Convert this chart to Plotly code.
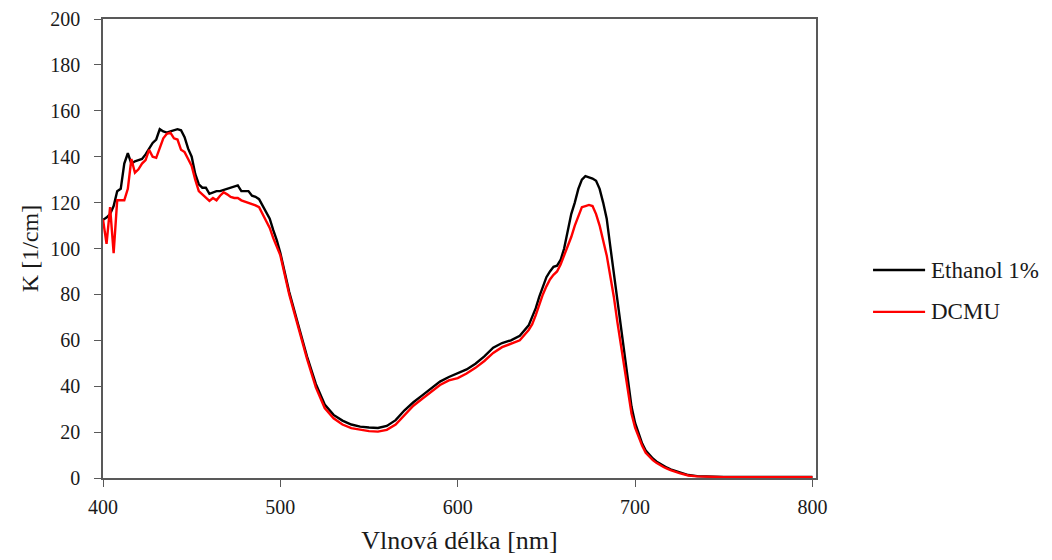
import plotly.graph_objects as go

# Wavelength grid [nm]
wavelength = (
    list(range(400, 501, 2))
    + list(range(505, 636, 5))
    + list(range(640, 721, 2))
    + list(range(725, 801, 5))
)

# Absorption coefficient K [1/cm], control (1 % ethanol)
k_ethanol = [
    # 400-500 nm
    112.5, 113.5, 115, 118.5, 125, 126, 137, 141.5, 137, 138,
    138.5, 139, 141, 143.5, 146, 147.5, 152, 151, 150.5, 151,
    151.5, 152, 151.5, 148.5, 143.5, 140, 132.5, 128, 126.5, 126.5,
    123.8, 124.5, 125, 125, 125.5, 126, 126.5, 127, 127.5, 125,
    125, 125, 123, 122.5, 121.5, 118.5, 116, 113, 108, 103.5,
    98,
    # 505-635 nm
    81, 67, 53, 41, 32, 27.5, 25, 23.3, 22.4, 22,
    21.8, 22.7, 25.2, 29.5, 33, 36, 39, 42, 44, 45.5,
    47.3, 49.8, 53, 56.8, 58.8, 60, 62,
    # 640-720 nm
    66.5, 70, 74, 79, 83.5, 87.5, 90, 92, 92.5, 95,
    100, 107, 115, 120, 126, 130, 131.5, 131, 130.5, 129.5,
    126, 120, 113, 101, 89, 78, 66, 54, 42, 31,
    24, 19, 15, 12, 10, 8.5, 7.2, 6.2, 5.3, 4.5,
    3.8,
    # 725-800 nm
    2.4, 1.3, 0.8, 0.6, 0.5, 0.45, 0.45, 0.45, 0.45, 0.45,
    0.45, 0.45, 0.45, 0.45, 0.45, 0.45,
]

# Absorption coefficient K [1/cm], DCMU treatment
k_dcmu = [
    # 400-500 nm
    112.7, 102, 118, 98, 121, 121, 121, 126, 139, 133,
    134.5, 137, 138.5, 143, 140, 139.5, 143.5, 148, 150, 150.5,
    148, 147.5, 143, 142, 139, 136, 130, 125, 123.6, 122,
    120.7, 122, 121, 123, 124.5, 123.6, 122.5, 122, 122, 121,
    120.5, 120, 119.5, 118.8, 118, 115, 112.7, 109, 104.5, 100.5,
    97,
    # 505-635 nm
    80, 66, 52, 39.5, 30.5, 26, 23.3, 21.7, 20.9, 20.4,
    20.2, 21, 23.3, 27.5, 31.5, 34.5, 37.5, 40.5, 42.5, 43.5,
    45.5, 48, 51, 54.5, 57, 58.5, 60,
    # 640-720 nm
    64.5, 67, 71, 76, 80, 83.5, 86.5, 88.5, 90, 93,
    97, 101, 105, 110, 114, 118, 118.5, 119, 118.5, 115,
    110, 104, 97, 88, 79, 68, 58, 46, 36, 28,
    22, 17.5, 14, 11, 9.2, 7.8, 6.6, 5.6, 4.8, 4.1,
    3.4,
    # 725-800 nm
    2.1, 1.1, 0.7, 0.5, 0.4, 0.4, 0.4, 0.4, 0.4, 0.4,
    0.4, 0.4, 0.4, 0.4, 0.4, 0.4,
]

series_names = ["Ethanol 1%", "DCMU"]
series_colors = ["#000000", "#FF0000"]

x_ticks = [400, 500, 600, 700, 800]
y_ticks = list(range(0, 201, 20))

FONT = "Liberation Serif, Times New Roman, serif"
TEXT_COLOR = "#1a1a1a"
AXIS_COLOR = "#595959"

fig = go.Figure()
for name, values, color in zip(series_names, [k_ethanol, k_dcmu], series_colors):
    fig.add_trace(
        go.Scatter(
            x=wavelength,
            y=values,
            mode="lines",
            name=name,
            line=dict(color=color, width=2.4),
            showlegend=False,
        )
    )

# Legend on the right: a short line sample followed by the series name
legend_y = [0.453, 0.362]
for name, color, ly in zip(series_names, series_colors, legend_y):
    fig.add_shape(
        type="line", xref="paper", yref="paper",
        x0=1.080, x1=1.153, y0=ly, y1=ly,
        line=dict(color=color, width=2.4),
    )
    fig.add_annotation(
        xref="paper", yref="paper", x=1.159, y=ly,
        xanchor="left", yanchor="middle", showarrow=False,
        text=name, font=dict(family=FONT, size=23, color=TEXT_COLOR),
    )

axis_common = dict(
    showline=True,
    linecolor=AXIS_COLOR,
    linewidth=1.5,
    mirror=True,
    ticks="outside",
    ticklen=7,
    tickwidth=1.2,
    tickcolor=AXIS_COLOR,
    showgrid=False,
    zeroline=False,
    automargin=False,
    tickfont=dict(family=FONT, size=20, color=TEXT_COLOR),
)

fig.update_xaxes(
    range=[400, 802],
    tickvals=x_ticks,
    ticklabelstandoff=3,
    title=dict(text="Vlnová délka [nm]", font=dict(family=FONT, size=26, color=TEXT_COLOR), standoff=14),
    **axis_common,
)
fig.update_yaxes(
    range=[0, 200],
    tickvals=y_ticks,
    ticklabelstandoff=10,
    title=dict(text="K [1/cm]", font=dict(family=FONT, size=24, color=TEXT_COLOR), standoff=5),
    **axis_common,
)

fig.update_layout(
    width=1052,
    height=560,
    margin=dict(l=103, r=236, t=19, b=82),
    paper_bgcolor="white",
    plot_bgcolor="white",
    showlegend=False,
)

fig.write_html("out.html")
